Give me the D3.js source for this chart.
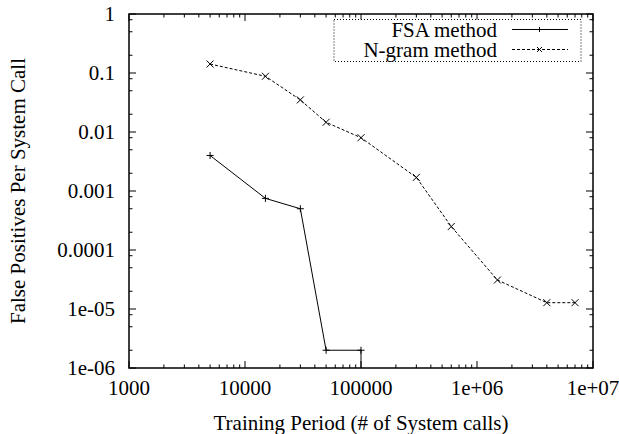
<!DOCTYPE html>
<html>
<head>
<meta charset="utf-8">
<script src="https://cdn.jsdelivr.net/npm/d3@7"></script>
<style>
  body { margin: 0; background: #fff; }
</style>
</head>
<body>
<svg class="svg-main" width="619" height="434"></svg>
<script>
const svg = d3.select('.svg-main');
const FONT = "Liberation Serif";

// data
const fsaX = [5000, 15000, 30000, 50000, 100000, 100000];
const fsaY = [0.004, 0.00075, 0.0005, 2e-6, 2e-6, 1e-8];
const ngramX = [5000, 15000, 30000, 50000, 100000, 300000, 600000, 1500000, 4000000, 7000000];
const ngramY = [0.142, 0.088, 0.035, 0.0146, 0.008, 0.0017, 0.00025, 3.1e-5, 1.28e-5, 1.28e-5];
const xTickValues = [1000, 10000, 100000, 1e6, 1e7];
const xTickLabels = ["1000", "10000", "100000", "1e+06", "1e+07"];
const yTickValues = [1, 0.1, 0.01, 0.001, 0.0001, 1e-5, 1e-6];
const yTickLabels = ["1", "0.1", "0.01", "0.001", "0.0001", "1e-05", "1e-06"];
const seriesNames = ["FSA method", "N-gram method"];

const margin = {left: 129, right: 26, top: 14, bottom: 66};
const width = 619, height = 434;
const x = d3.scaleLog().domain([1000, 1e7]).range([margin.left, width - margin.right]);
const y = d3.scaleLog().domain([1e-6, 1]).range([height - margin.bottom, margin.top]);

const x0 = x.range()[0], x1 = x.range()[1];
const y0 = y.range()[0], y1 = y.range()[1];

// minor ticks
const xMinor = [];
for (let e = 3; e < 7; e++) for (let m = 2; m <= 9; m++) xMinor.push(m * Math.pow(10, e));
const yMinor = [];
for (let e = -6; e < 0; e++) [2, 5, 8].forEach(m => yMinor.push(m * Math.pow(10, e)));

const ticks = svg.append("g").attr("stroke", "#000").attr("stroke-width", 1);
function hTick(v, len) {
  ticks.append("line").attr("x1", x(v)).attr("x2", x(v)).attr("y1", y0).attr("y2", y0 - len);
  ticks.append("line").attr("x1", x(v)).attr("x2", x(v)).attr("y1", y1).attr("y2", y1 + len);
}
function vTick(v, len) {
  ticks.append("line").attr("y1", y(v)).attr("y2", y(v)).attr("x1", x0).attr("x2", x0 + len);
  ticks.append("line").attr("y1", y(v)).attr("y2", y(v)).attr("x1", x1).attr("x2", x1 - len);
}
xTickValues.forEach(v => hTick(v, 7));
xMinor.forEach(v => hTick(v, 3.5));
yTickValues.forEach(v => vTick(v, 7));
yMinor.forEach(v => vTick(v, 3.5));

// frame
svg.append("rect")
  .attr("x", x0).attr("y", y1)
  .attr("width", x1 - x0).attr("height", y0 - y1)
  .attr("fill", "none").attr("stroke", "#000").attr("stroke-width", 1.5);

// tick labels
svg.append("g").selectAll("text")
  .data(xTickValues)
  .enter().append("text")
    .attr("x", (d) => x(d))
    .attr("y", y0 + 27)
    .attr("text-anchor", "middle")
    .attr("font-family", FONT)
    .attr("font-size", 21)
    .text((d, i) => xTickLabels[i]);

svg.append("g").selectAll("text")
  .data(yTickValues)
  .enter().append("text")
    .attr("x", x0 - 14)
    .attr("y", (d) => y(d) + 7)
    .attr("text-anchor", "end")
    .attr("font-family", FONT)
    .attr("font-size", 21)
    .text((d, i) => yTickLabels[i]);

// axis titles
svg.append("text")
  .attr("x", (x0 + x1) / 2)
  .attr("y", 430)
  .attr("text-anchor", "middle")
  .attr("font-family", FONT)
  .attr("font-size", 21)
  .text("Training Period (# of System calls)");

svg.append("text")
  .attr("transform", `translate(25,${(y0 + y1) / 2}) rotate(-90)`)
  .attr("text-anchor", "middle")
  .attr("font-family", FONT)
  .attr("font-size", 21)
  .text("False Positives Per System Call");

// series
svg.append("clipPath").attr("id", "clip")
  .append("rect").attr("x", x0).attr("y", y1).attr("width", x1 - x0).attr("height", y0 - y1);

const line = d3.line().x((d) => x(d[0])).y((d) => y(d[1]));
const fsa = fsaX.map((v, i) => [v, fsaY[i]]);
const ngram = ngramX.map((v, i) => [v, ngramY[i]]);

const plot = svg.append("g").attr("clip-path", "url(#clip)");
plot.append("path").datum(fsa)
  .attr("d", line).attr("fill", "none").attr("stroke", "#000").attr("stroke-width", 1);
plot.append("path").datum(ngram)
  .attr("d", line).attr("fill", "none").attr("stroke", "#000").attr("stroke-width", 1)
  .attr("stroke-dasharray", "3,2");

function plus(g, cx, cy, r) {
  g.append("path").attr("d", `M${cx - r},${cy}H${cx + r}M${cx},${cy - r}V${cy + r}`)
    .attr("stroke", "#000").attr("stroke-width", 1);
}
function cross(g, cx, cy, r) {
  g.append("path").attr("d", `M${cx - r},${cy - r}L${cx + r},${cy + r}M${cx - r},${cy + r}L${cx + r},${cy - r}`)
    .attr("stroke", "#000").attr("stroke-width", 1);
}
fsa.forEach((d) => { if (d[1] >= 1e-6) plus(plot, x(d[0]), y(d[1]), 3.5); });
ngram.forEach((d) => cross(plot, x(d[0]), y(d[1]), 3.5));

// legend
const legend = svg.append("g");
legend.append("rect")
  .attr("x", 334).attr("y", 19.5).attr("width", 247).attr("height", 42)
  .attr("fill", "#fff").attr("stroke", "#000").attr("stroke-width", 1)
  .attr("stroke-dasharray", "1,2");
seriesNames.forEach((name, i) => {
  const ly = 29.5 + i * 20;
  legend.append("text")
    .attr("x", 497).attr("y", ly + 7.3)
    .attr("text-anchor", "end")
    .attr("font-family", FONT)
    .attr("font-size", 21)
    .text(name);
  legend.append("line")
    .attr("x1", 512).attr("x2", 568).attr("y1", ly).attr("y2", ly)
    .attr("stroke", "#000").attr("stroke-width", 1)
    .attr("stroke-dasharray", i === 0 ? null : "3,2");
  if (i === 0) plus(legend, 539.5, ly, 2.5); else cross(legend, 539.5, ly, 2.5);
});
</script>
</body>
</html>
